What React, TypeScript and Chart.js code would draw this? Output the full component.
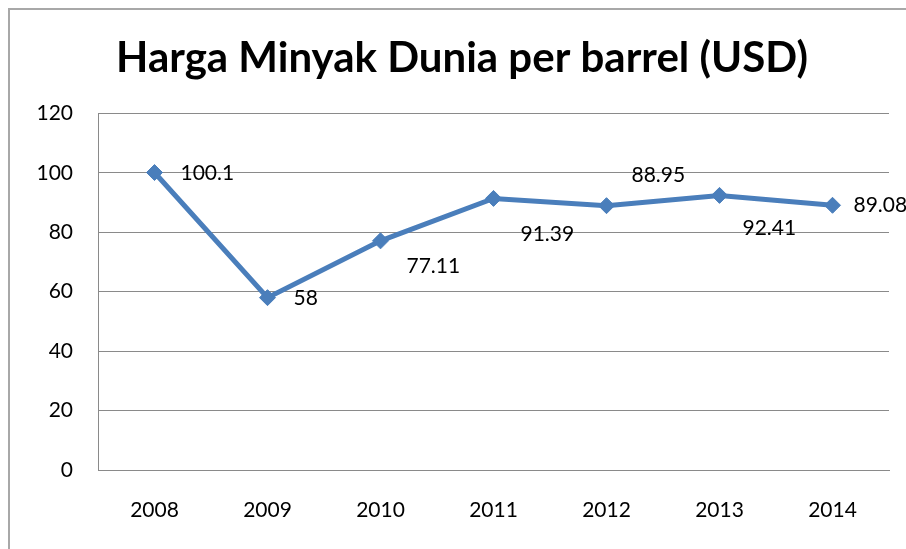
import React, { useEffect, useRef } from "react";
import { Chart, registerables } from "chart.js";

Chart.register(...registerables);

const title = "Harga Minyak Dunia per barrel (USD)";
const years = ["2008", "2009", "2010", "2011", "2012", "2013", "2014"];
const prices = [100.1, 58, 77.11, 91.39, 88.95, 92.41, 89.08];
const priceLabels = ["100.1", "58", "77.11", "91.39", "88.95", "92.41", "89.08"];
const yTicks = [0, 20, 40, 60, 80, 100, 120];

// label offsets (style only): [dx, dy] from the marker
const labelOffsets: [number, number][] = [
  [26, 1],
  [26, 1],
  [26, 25],
  [27, 36],
  [25, -30],
  [23, 33],
  [21, 0],
];

const FONT = "Lato, 'Open Sans', sans-serif";
const LINE = "#4A7EBB";
const GRID = "#8a8a8a";

const labelPlugin = {
  id: "pointLabels",
  afterDatasetsDraw(chart: any) {
    const meta = chart.getDatasetMeta(0);
    const ctx = chart.ctx;
    ctx.save();
    ctx.font = `21px ${FONT}`;
    ctx.fillStyle = "#000";
    ctx.textAlign = "left";
    ctx.textBaseline = "middle";
    meta.data.forEach((pt: any, i: number) => {
      const [dx, dy] = labelOffsets[i];
      ctx.fillText(priceLabels[i], pt.x + dx, pt.y + dy);
    });
    ctx.restore();
  },
};

export default function App() {
  const ref = useRef<HTMLCanvasElement>(null);
  useEffect(() => {
    if (!ref.current) return;
    const chart = new Chart(ref.current, {
      type: "line",
      data: {
        labels: years,
        datasets: [
          {
            data: prices,
            borderColor: LINE,
            backgroundColor: LINE,
            borderWidth: 5,
            pointStyle: "rectRot",
            pointRadius: 8,
            pointBorderWidth: 1,
            pointBackgroundColor: LINE,
            pointBorderColor: LINE,
            tension: 0,
          },
        ],
      },
      options: {
        animation: false,
        responsive: false,
        layout: { padding: { left: 25, right: 17, top: 0, bottom: 0 } },
        plugins: {
          legend: { display: false },
          tooltip: { enabled: false },
          title: {
            display: true,
            text: title,
            color: "#000",
            font: { family: FONT, size: 42, weight: "bold" },
            padding: { top: 23, bottom: 30 },
          },
        },
        scales: {
          x: {
            offset: true,
            grid: { display: false, drawTicks: false },
            border: { display: true, color: GRID, width: 1 },
            ticks: {
              color: "#000",
              font: { family: FONT, size: 21 },
              padding: 28,
              maxRotation: 0,
            },
            afterFit: (s: any) => {
              s.height = 79;
            },
          },
          y: {
            min: 0,
            max: 120,
            afterBuildTicks: (s: any) => {
              s.ticks = yTicks.map((v) => ({ value: v }));
            },
            grid: { color: GRID, lineWidth: 1, drawTicks: false },
            border: { display: true, color: GRID, width: 1 },
            ticks: {
              color: "#000",
              font: { family: FONT, size: 21 },
              padding: 25,
            },
            afterFit: (s: any) => {
              s.width = 63;
            },
          },
        },
      },
      plugins: [labelPlugin],
    });
    return () => chart.destroy();
  }, []);

  return (
    <div
      style={{
        position: "absolute",
        left: 8,
        top: 8,
        width: 898,
        height: 541,
        borderLeft: "2px solid #a8a8a8",
        borderTop: "2px solid #a8a8a8",
        boxSizing: "border-box",
        background: "#fff",
        overflow: "hidden",
      }}
    >
      <canvas ref={ref} width={896} height={539} style={{ display: "block" }} />
    </div>
  );
}
